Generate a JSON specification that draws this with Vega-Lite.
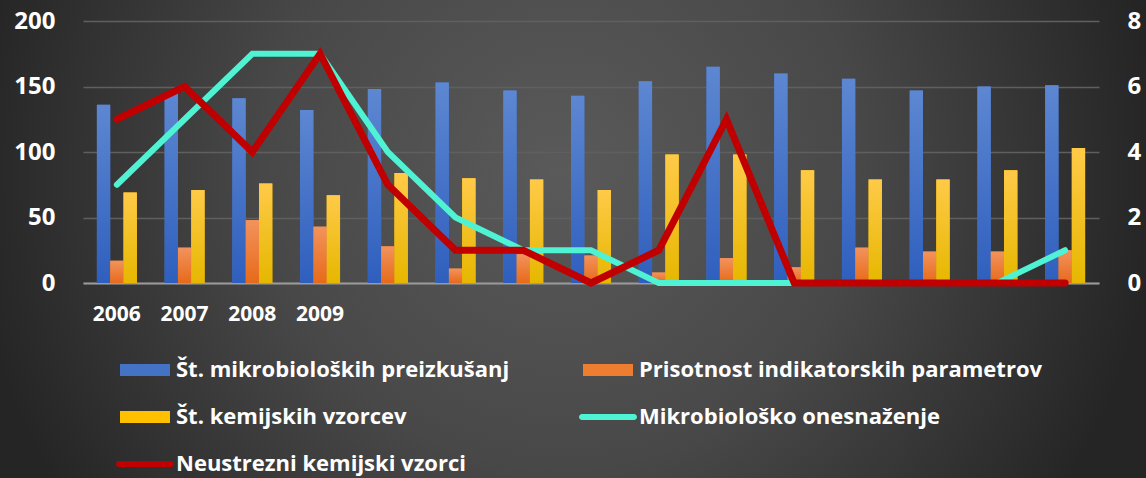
{
  "$schema": "https://vega.github.io/schema/vega-lite/v6.json",
  "width": 1146,
  "height": 478,
  "autosize": {"type": "none"},
  "padding": 0,
  "background": "#2a2a2a",
  "view": {
    "stroke": null,
    "fill": {
      "gradient": "radial",
      "x1": 0.49, "y1": 0.44, "r1": 0,
      "x2": 0.49, "y2": 0.44, "r2": 0.52,
      "stops": [
        {"offset": 0, "color": "#5a5a5a"},
        {"offset": 0.5, "color": "#484848"},
        {"offset": 1, "color": "#252525"}
      ]
    }
  },
  "datasets": {
    "bars": [
      {"year": 2006, "series": "Št. mikrobioloških preizkušanj", "value": 136},
      {"year": 2007, "series": "Št. mikrobioloških preizkušanj", "value": 145},
      {"year": 2008, "series": "Št. mikrobioloških preizkušanj", "value": 141},
      {"year": 2009, "series": "Št. mikrobioloških preizkušanj", "value": 132},
      {"year": 2010, "series": "Št. mikrobioloških preizkušanj", "value": 148},
      {"year": 2011, "series": "Št. mikrobioloških preizkušanj", "value": 153},
      {"year": 2012, "series": "Št. mikrobioloških preizkušanj", "value": 147},
      {"year": 2013, "series": "Št. mikrobioloških preizkušanj", "value": 143},
      {"year": 2014, "series": "Št. mikrobioloških preizkušanj", "value": 154},
      {"year": 2015, "series": "Št. mikrobioloških preizkušanj", "value": 165},
      {"year": 2016, "series": "Št. mikrobioloških preizkušanj", "value": 160},
      {"year": 2017, "series": "Št. mikrobioloških preizkušanj", "value": 156},
      {"year": 2018, "series": "Št. mikrobioloških preizkušanj", "value": 147},
      {"year": 2019, "series": "Št. mikrobioloških preizkušanj", "value": 150},
      {"year": 2020, "series": "Št. mikrobioloških preizkušanj", "value": 151},
      {"year": 2006, "series": "Prisotnost indikatorskih parametrov", "value": 17},
      {"year": 2007, "series": "Prisotnost indikatorskih parametrov", "value": 27},
      {"year": 2008, "series": "Prisotnost indikatorskih parametrov", "value": 48},
      {"year": 2009, "series": "Prisotnost indikatorskih parametrov", "value": 43},
      {"year": 2010, "series": "Prisotnost indikatorskih parametrov", "value": 28},
      {"year": 2011, "series": "Prisotnost indikatorskih parametrov", "value": 11},
      {"year": 2012, "series": "Prisotnost indikatorskih parametrov", "value": 22},
      {"year": 2013, "series": "Prisotnost indikatorskih parametrov", "value": 21},
      {"year": 2014, "series": "Prisotnost indikatorskih parametrov", "value": 8},
      {"year": 2015, "series": "Prisotnost indikatorskih parametrov", "value": 19},
      {"year": 2016, "series": "Prisotnost indikatorskih parametrov", "value": 12},
      {"year": 2017, "series": "Prisotnost indikatorskih parametrov", "value": 27},
      {"year": 2018, "series": "Prisotnost indikatorskih parametrov", "value": 24},
      {"year": 2019, "series": "Prisotnost indikatorskih parametrov", "value": 24},
      {"year": 2020, "series": "Prisotnost indikatorskih parametrov", "value": 25},
      {"year": 2006, "series": "Št. kemijskih vzorcev", "value": 69},
      {"year": 2007, "series": "Št. kemijskih vzorcev", "value": 71},
      {"year": 2008, "series": "Št. kemijskih vzorcev", "value": 76},
      {"year": 2009, "series": "Št. kemijskih vzorcev", "value": 67},
      {"year": 2010, "series": "Št. kemijskih vzorcev", "value": 84},
      {"year": 2011, "series": "Št. kemijskih vzorcev", "value": 80},
      {"year": 2012, "series": "Št. kemijskih vzorcev", "value": 79},
      {"year": 2013, "series": "Št. kemijskih vzorcev", "value": 71},
      {"year": 2014, "series": "Št. kemijskih vzorcev", "value": 98},
      {"year": 2015, "series": "Št. kemijskih vzorcev", "value": 98},
      {"year": 2016, "series": "Št. kemijskih vzorcev", "value": 86},
      {"year": 2017, "series": "Št. kemijskih vzorcev", "value": 79},
      {"year": 2018, "series": "Št. kemijskih vzorcev", "value": 79},
      {"year": 2019, "series": "Št. kemijskih vzorcev", "value": 86},
      {"year": 2020, "series": "Št. kemijskih vzorcev", "value": 103}
    ],
    "lines": [
      {"year": 2006, "series": "Mikrobiološko onesnaženje", "value": 3},
      {"year": 2007, "series": "Mikrobiološko onesnaženje", "value": 5},
      {"year": 2008, "series": "Mikrobiološko onesnaženje", "value": 7},
      {"year": 2009, "series": "Mikrobiološko onesnaženje", "value": 7},
      {"year": 2010, "series": "Mikrobiološko onesnaženje", "value": 4},
      {"year": 2011, "series": "Mikrobiološko onesnaženje", "value": 2},
      {"year": 2012, "series": "Mikrobiološko onesnaženje", "value": 1},
      {"year": 2013, "series": "Mikrobiološko onesnaženje", "value": 1},
      {"year": 2014, "series": "Mikrobiološko onesnaženje", "value": 0},
      {"year": 2015, "series": "Mikrobiološko onesnaženje", "value": 0},
      {"year": 2016, "series": "Mikrobiološko onesnaženje", "value": 0},
      {"year": 2017, "series": "Mikrobiološko onesnaženje", "value": 0},
      {"year": 2018, "series": "Mikrobiološko onesnaženje", "value": 0},
      {"year": 2019, "series": "Mikrobiološko onesnaženje", "value": 0},
      {"year": 2020, "series": "Mikrobiološko onesnaženje", "value": 1},
      {"year": 2006, "series": "Neustrezni kemijski vzorci", "value": 5},
      {"year": 2007, "series": "Neustrezni kemijski vzorci", "value": 6},
      {"year": 2008, "series": "Neustrezni kemijski vzorci", "value": 4},
      {"year": 2009, "series": "Neustrezni kemijski vzorci", "value": 7},
      {"year": 2010, "series": "Neustrezni kemijski vzorci", "value": 3},
      {"year": 2011, "series": "Neustrezni kemijski vzorci", "value": 1},
      {"year": 2012, "series": "Neustrezni kemijski vzorci", "value": 1},
      {"year": 2013, "series": "Neustrezni kemijski vzorci", "value": 0},
      {"year": 2014, "series": "Neustrezni kemijski vzorci", "value": 1},
      {"year": 2015, "series": "Neustrezni kemijski vzorci", "value": 5},
      {"year": 2016, "series": "Neustrezni kemijski vzorci", "value": 0},
      {"year": 2017, "series": "Neustrezni kemijski vzorci", "value": 0},
      {"year": 2018, "series": "Neustrezni kemijski vzorci", "value": 0},
      {"year": 2019, "series": "Neustrezni kemijski vzorci", "value": 0},
      {"year": 2020, "series": "Neustrezni kemijski vzorci", "value": 0}
    ]
  },
  "layer": [
    {
      "data": {"name": "bars"},
      "encoding": {
        "x": {
          "field": "year",
          "type": "ordinal",
          "scale": {"range": [83, 1099], "paddingInner": 0.41, "paddingOuter": 0.205},
          "axis": {
            "title": null,
            "orient": "bottom",
            "offset": -195,
            "domainColor": "#9a9a9a",
            "domainWidth": 2,
            "ticks": false,
            "tickSize": 0,
            "labelPadding": 20,
            "labelAngle": 0,
            "labelFontSize": 21,
            "labelOverlap": false,
            "labelExpr": "datum.value <= 2009 ? datum.label : ''",
            "grid": false
          }
        },
        "xOffset": {
          "field": "series",
          "type": "nominal",
          "scale": {
            "domain": ["Št. mikrobioloških preizkušanj", "Prisotnost indikatorskih parametrov", "Št. kemijskih vzorcev"],
            "paddingInner": 0,
            "paddingOuter": 0
          }
        },
        "y": {
          "field": "value",
          "type": "quantitative",
          "scale": {"domain": [0, 200], "range": [283, 21], "nice": false},
          "axis": {
            "title": null,
            "orient": "left",
            "values": [0, 50, 100, 150, 200],
            "offset": -55,
            "domain": false,
            "ticks": false,
            "tickSize": 0,
            "labelPadding": 0,
            "labelFontSize": 24,
            "grid": true,
            "gridColor": "#5f5f5f",
            "gridWidth": 1.5
          }
        }
      },
      "layer": [
        {
          "mark": {"type": "bar"},
          "encoding": {
            "color": {
              "field": "series",
              "type": "nominal",
              "scale": {
                "domain": ["Št. mikrobioloških preizkušanj", "Prisotnost indikatorskih parametrov", "Št. kemijskih vzorcev", "Mikrobiološko onesnaženje", "Neustrezni kemijski vzorci"],
                "range": ["#4472c4", "#ed7d31", "#ffc000", "#4ff2d2", "#c00000"]
              },
              "legend": {
                "title": null,
                "orient": "none",
                "legendX": 120,
                "legendY": 345,
                "columns": 2,
                "direction": "horizontal",
                "columnPadding": 69,
                "rowPadding": 11,
                "padding": 0,
                "symbolSize": 2500,
                "symbolType": "M-1,-0.24H1V0.24H-1Z",
                "symbolStrokeWidth": 0,
                "labelOffset": 6,
                "labelLimit": 0,
                "labelFontSize": 22,
                "encode": {
                  "symbols": {
                    "update": {
                      "shape": {"signal": "(datum.value === 'Mikrobiološko onesnaženje' || datum.value === 'Neustrezni kemijski vzorci') ? 'M-1.04,-0.12H1.04A0.12,0.12 0 0 1 1.04,0.12H-1.04A0.12,0.12 0 0 1 -1.04,-0.12Z' : 'M-1,-0.24H1V0.24H-1Z'"},
                      "fill": {"scale": "color", "field": "value"},
                      "strokeWidth": {"value": 0},
                      "opacity": {"value": 1}
                    }
                  }
                }
              }
            }
          }
        },
        {
          "transform": [{"filter": "datum.series === 'Št. mikrobioloških preizkušanj'"}],
          "mark": {"type": "bar", "color": {"gradient": "linear", "x1": 0, "y1": 0, "x2": 0, "y2": 1, "stops": [{"offset": 0, "color": "#5d87d1"}, {"offset": 1, "color": "#2f5fbe"}]}}
        },
        {
          "transform": [{"filter": "datum.series === 'Prisotnost indikatorskih parametrov'"}],
          "mark": {"type": "bar", "color": {"gradient": "linear", "x1": 0, "y1": 0, "x2": 0, "y2": 1, "stops": [{"offset": 0, "color": "#f2935c"}, {"offset": 1, "color": "#e76a1a"}]}}
        },
        {
          "transform": [{"filter": "datum.series === 'Št. kemijskih vzorcev'"}],
          "mark": {"type": "bar", "color": {"gradient": "linear", "x1": 0, "y1": 0, "x2": 0, "y2": 1, "stops": [{"offset": 0, "color": "#ffca48"}, {"offset": 1, "color": "#e6b700"}]}}
        }
      ]
    },
    {
      "data": {"name": "lines"},
      "encoding": {
        "x": {"field": "year", "type": "ordinal"},
        "y": {
          "field": "value",
          "type": "quantitative",
          "scale": {"domain": [0, 8], "range": [283, 21], "nice": false},
          "axis": {
            "title": null,
            "orient": "right",
            "values": [0, 2, 4, 6, 8],
            "offset": -19,
            "domain": false,
            "ticks": false,
            "tickSize": 0,
            "labelPadding": 0,
            "labelFontSize": 24,
            "grid": false
          }
        },
        "color": {"field": "series", "type": "nominal"}
      },
      "layer": [
        {
          "transform": [{"filter": "datum.series === 'Mikrobiološko onesnaženje'"}],
          "mark": {"type": "line", "strokeWidth": 6, "strokeCap": "round"}
        },
        {
          "transform": [{"filter": "datum.series === 'Neustrezni kemijski vzorci'"}],
          "mark": {"type": "line", "strokeWidth": 7, "strokeCap": "round"}
        }
      ]
    }
  ],
  "resolve": {"scale": {"y": "independent"}},
  "config": {
    "axis": {
      "labelFont": "Open Sans",
      "labelFontWeight": "bold",
      "labelColor": "#ffffff"
    },
    "legend": {
      "labelFont": "Open Sans",
      "labelFontWeight": "bold",
      "labelColor": "#ffffff"
    }
  }
}
